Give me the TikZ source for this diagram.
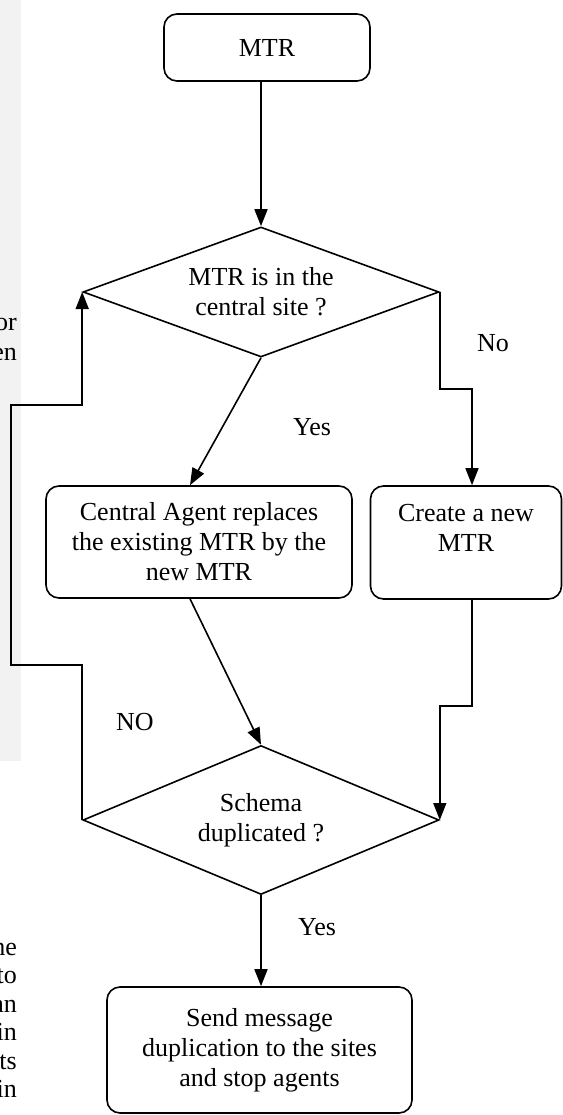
\documentclass[tikz,border=0pt]{standalone}
\usepackage{fontspec}
\setmainfont{Liberation Serif}
\usetikzlibrary{shapes.geometric,arrows.meta,calc}
\begin{document}
\begin{tikzpicture}[x=1pt,y=-1pt,
  font=\fontsize{26}{30}\selectfont,
  box/.style={draw,rounded corners=13pt,line width=1.6pt,align=center,inner sep=0pt},
  dec/.style={draw,diamond,line width=1.6pt,align=center,inner sep=0pt},
  conn/.style={line width=1.6pt,-{Triangle[length=17pt,width=13pt]}},
  lbl/.style={inner sep=0pt},
  frag/.style={inner sep=0pt,anchor=base east}
]
\useasboundingbox (0,0) rectangle (562,1115);
\fill[black!5] (0,0) rectangle (21,761);

% nodes
\node[box,minimum width=206pt,minimum height=67pt] (mtr) at (267,47.5) {MTR};
\node[dec,minimum width=356pt,minimum height=130pt,aspect=2.74] (d1) at (261,292) {MTR is in the\\central site ?};
\node[box,minimum width=306pt,minimum height=112pt] (cen) at (199,542) {Central Agent replaces\\the existing MTR by the\\new MTR};
\node[box,minimum width=191pt,minimum height=113pt] (cre) at (466,542.5) {Create a new\\MTR\\~};
\node[dec,minimum width=356pt,minimum height=149pt,aspect=2.39] (d2) at (261,820) {Schema\\duplicated ?};
\node[box,minimum width=305pt,minimum height=126pt] (snd) at (259.5,1050) {Send message\\duplication to the sites\\and stop agents};

% helper coordinates
\coordinate (r1) at (472,389);
\coordinate (r2) at (472,706);
\coordinate (l1) at (11,665);
\coordinate (l2) at (11,405);

% connectors
\draw[conn] (mtr.south -| d1.north) -- (d1.north);
\draw[conn] (d1.south) -- ($(cen.north)+(-9,0)$);
\draw[conn] (d1.east) |- (r1) -- (r1 |- cre.north);
\draw[conn] ($(cen.south)+(-9,0)$) -- (d2.north);
\draw[conn] (r1 |- cre.south) -- (r2) -| (d2.east);
\draw[conn] (d2.west) |- (l1) -- (l2) -| (d1.west);
\draw[conn] (d2.south) -- (snd.north -| d2.south);

% labels
\node[lbl] (no1) at (493,343) {No};
\node[lbl] (yes1) at (312,427) {Yes};
\node[lbl] (no2) at (135,722) {NO};
\node[lbl] (yes2) at (317,927) {Yes};

% text fragments at the left edge
\node[frag] (f1) at (17,330) {or};
\node[frag] (f2) at (17,360) {en};
\node[frag] (f3) at (17,955) {he};
\node[frag] (f4) at (17,983.5) {to};
\node[frag] (f5) at (17,1012) {an};
\node[frag] (f6) at (17,1040.5) {in};
\node[frag] (f7) at (17,1069) {ts};
\node[frag] (f8) at (17,1097.5) {in};
\end{tikzpicture}
\end{document}
